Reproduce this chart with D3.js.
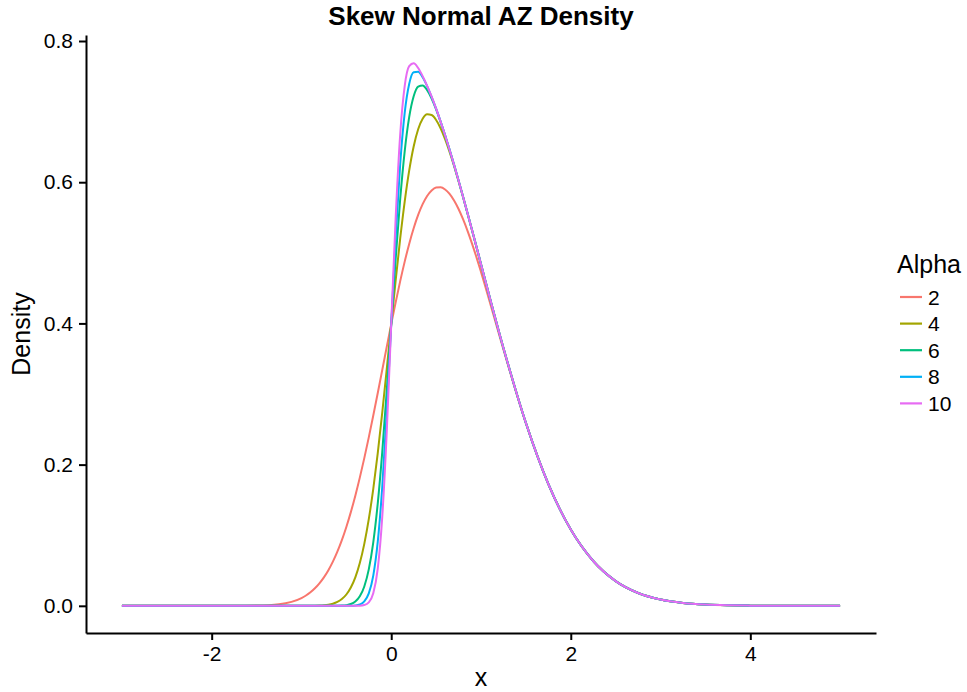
<!DOCTYPE html>
<html>
<head>
<meta charset="utf-8">
<script src="https://cdn.jsdelivr.net/npm/d3@7"></script>
<style>
  body { margin: 0; background: #fff; }
  text { font-family: "Liberation Sans", Arial, Helvetica, sans-serif; fill: #000; }
</style>
</head>
<body>
<div id="wrapper"></div>
<script>

// x grid the densities were read on
const xValues = [-3, -2.75, -2.5, -2.25, -2, -1.75, -1.5, -1.25, -1,
  -0.95, -0.9, -0.85, -0.8, -0.75, -0.7, -0.65, -0.6, -0.55, -0.5,
  -0.45, -0.4, -0.35, -0.3, -0.25, -0.2, -0.15, -0.1, -0.05, 0,
  0.05, 0.1, 0.15, 0.2, 0.25, 0.3, 0.35, 0.4, 0.45, 0.5,
  0.55, 0.6, 0.65, 0.7, 0.75, 0.8, 0.85, 0.9, 0.95,
  1, 1.25, 1.5, 1.75, 2, 2.25, 2.5, 2.75, 3, 3.25, 3.5, 3.75, 4, 4.25, 4.5, 4.75, 5]

const alpha2 = [0, 0, 0, 0, 0.000003, 0.00004, 0.00035, 0.00227, 0.01101,
  0.01459, 0.01912, 0.02478, 0.03175, 0.04024, 0.05044, 0.06253, 0.07669, 0.09305, 0.11172,
  0.13272, 0.15604, 0.18159, 0.20919, 0.23861, 0.26949, 0.30145, 0.33403, 0.36670, 0.39894,
  0.43018, 0.45987, 0.48751, 0.51259, 0.53473, 0.55359, 0.56889, 0.58050, 0.58834, 0.59242,
  0.59283, 0.58975, 0.58341, 0.57407, 0.56204, 0.54763, 0.53118, 0.51306, 0.49353,
  0.47293, 0.36303, 0.25869, 0.17252, 0.10798, 0.06348, 0.03506, 0.01818, 0.00886, 0.00406,
  0.00175, 0.00070, 0.00027, 0.00009, 0.00003, 0.00001, 0]

const alpha4 = [0, 0, 0, 0, 0, 0, 0, 0, 0.00002,
  0.00004, 0.00009, 0.00019, 0.0004, 0.00081, 0.0016, 0.00301, 0.00546, 0.00954, 0.01602,
  0.02591, 0.04036, 0.06061, 0.08777, 0.1227, 0.16569, 0.21637, 0.27356, 0.33528, 0.39894,
  0.4616, 0.52034, 0.57259, 0.61639, 0.65064, 0.67501, 0.68987, 0.69618, 0.69515, 0.68812,
  0.67635, 0.66098, 0.64293, 0.6229, 0.60147, 0.57898, 0.55577, 0.53209, 0.50805,
  0.48391, 0.3653, 0.25904, 0.17255, 0.10798, 0.06348, 0.03506, 0.01819, 0.00886, 0.00406,
  0.00175, 0.00071, 0.00027, 0.00009, 0.00003, 0.00001, 0]

const alpha6 = [0, 0, 0, 0, 0, 0, 0, 0, 0,
  0, 0, 0, 0, 0, 0.00001, 0.00003, 0.00011, 0.00033, 0.00095,
  0.0025, 0.00604, 0.01341, 0.02741, 0.05166, 0.08999, 0.14522, 0.21773, 0.30448, 0.39894,
  0.4924, 0.57617, 0.64375, 0.69209, 0.72167, 0.73537, 0.73708, 0.7305, 0.71856, 0.70319,
  0.68555, 0.66633, 0.64591, 0.6245, 0.60228, 0.57938, 0.55596, 0.53218, 0.50812,
  0.48394, 0.3653, 0.25904, 0.17255, 0.10798, 0.06348, 0.03506, 0.01819, 0.00886, 0.00406,
  0.00175, 0.00071, 0.00027, 0.00009, 0.00003, 0.00001, 0]

const alpha8 = [0, 0, 0, 0, 0, 0, 0, 0, 0,
  0, 0, 0, 0, 0, 0, 0, 0, 0, 0.00002,
  0.00012, 0.00051, 0.00192, 0.00625, 0.01759, 0.04286, 0.09079, 0.1682, 0.27459, 0.39894,
  0.52229, 0.6257, 0.69818, 0.73922, 0.75575, 0.75653, 0.74856, 0.73603, 0.72094, 0.70412,
  0.68588, 0.66644, 0.64594, 0.6245, 0.60228, 0.57938, 0.55596, 0.53218, 0.50812,
  0.48394, 0.3653, 0.25904, 0.17255, 0.10798, 0.06348, 0.03506, 0.01819, 0.00886, 0.00406,
  0.00175, 0.00071, 0.00027, 0.00009, 0.00003, 0.00001, 0]

const alpha10 = [0, 0, 0, 0, 0, 0, 0, 0, 0,
  0, 0, 0, 0, 0, 0, 0, 0, 0, 0,
  0, 0.00002, 0.00018, 0.00103, 0.0048, 0.01779, 0.05271, 0.12596, 0.24587, 0.39894,
  0.55101, 0.66794, 0.73625, 0.76429, 0.76854, 0.76175, 0.75031, 0.73652, 0.72106, 0.70414,
  0.68588, 0.66644, 0.64594, 0.6245, 0.60228, 0.57938, 0.55596, 0.53218, 0.50812,
  0.48394, 0.3653, 0.25904, 0.17255, 0.10798, 0.06348, 0.03506, 0.01819, 0.00886, 0.00406,
  0.00175, 0.00071, 0.00027, 0.00009, 0.00003, 0.00001, 0]

const alphaLabels = ["2", "4", "6", "8", "10"]
const alphaSeries = [alpha2, alpha4, alpha6, alpha8, alpha10]
const alphaColors = ["#F8766D", "#A3A500", "#00BF7D", "#00B0F6", "#E76BF3"]

const xTicks = [-2, 0, 2, 4]
const yTicks = [0, 0.2, 0.4, 0.6, 0.8]


// dimensions and framing
let dimensions = {
  width: 967,
  height: 692,
  margin: {
    top: 35,
    right: 91,
    bottom: 59,
    left: 86,
  },
}
dimensions.boundedWidth = dimensions.width
  - dimensions.margin.left
  - dimensions.margin.right
dimensions.boundedHeight = dimensions.height
  - dimensions.margin.top
  - dimensions.margin.bottom

const wrapper = d3.select("#wrapper")
  .append("svg")
    .attr("width", dimensions.width)
    .attr("height", dimensions.height)

const bounds = wrapper.append("g")
    .attr("transform", `translate(${dimensions.margin.left},${dimensions.margin.top})`)


// scales (ggplot style 5% expansion)
const xScale = d3.scaleLinear()
  .domain([-3.4, 5.4])
  .range([0, dimensions.boundedWidth])

const yScale = d3.scaleLinear()
  .domain([-0.0385, 0.8085])
  .range([dimensions.boundedHeight, 0])


// density curves
const lineGenerator = d3.line()
  .x(d => xScale(d[0]))
  .y(d => yScale(d[1]))
  .curve(d3.curveMonotoneX)

alphaSeries.forEach((series, i) => {
  const points = xValues.map((x, j) => [x, series[j]])
  bounds.append("path")
      .datum(points)
      .attr("d", lineGenerator)
      .attr("fill", "none")
      .attr("stroke", alphaColors[i])
      .attr("stroke-width", 2)
})


// axes
const xAxis = bounds.append("g")
    .attr("transform", `translate(0,${dimensions.boundedHeight})`)
    .call(d3.axisBottom(xScale)
      .tickValues(xTicks)
      .tickSizeOuter(0)
      .tickSizeInner(7)
      .tickPadding(6)
      .tickFormat(d3.format("d")))

const yAxis = bounds.append("g")
    .call(d3.axisLeft(yScale)
      .tickValues(yTicks)
      .tickSizeOuter(0)
      .tickSizeInner(7)
      .tickPadding(6)
      .tickFormat(d3.format(".1f")))

bounds.selectAll(".domain, .tick line")
    .attr("stroke", "#000")
    .attr("stroke-width", 2)
bounds.selectAll(".tick text")
    .attr("fill", "#000")
    .style("font-size", "21px")
xAxis.selectAll(".tick text").text(d => d < 0 ? "-" + Math.abs(d) : d)


// labels
wrapper.append("text")
    .attr("x", dimensions.margin.left + dimensions.boundedWidth / 2)
    .attr("y", 25)
    .attr("text-anchor", "middle")
    .style("font-size", "26px")
    .style("font-weight", "bold")
    .text("Skew Normal AZ Density")

wrapper.append("text")
    .attr("x", dimensions.margin.left + dimensions.boundedWidth / 2)
    .attr("y", 686)
    .attr("text-anchor", "middle")
    .style("font-size", "25px")
    .text("x")

wrapper.append("text")
    .attr("transform", `translate(30,${dimensions.margin.top + dimensions.boundedHeight / 2}) rotate(-90)`)
    .attr("text-anchor", "middle")
    .style("font-size", "25px")
    .text("Density")


// legend
const legend = wrapper.append("g")
    .attr("transform", "translate(897,0)")

legend.append("text")
    .attr("x", 0)
    .attr("y", 273)
    .style("font-size", "25px")
    .text("Alpha")

const legendItems = legend.selectAll(".legend-item")
    .data(alphaLabels)
  .join("g")
    .attr("class", "legend-item")
    .attr("transform", (d, i) => `translate(0,${297 + i * 26.6})`)

legendItems.append("line")
    .attr("x1", 3)
    .attr("x2", 25)
    .attr("stroke", (d, i) => alphaColors[i])
    .attr("stroke-width", 2.2)

legendItems.append("text")
    .attr("x", 31)
    .attr("y", 7.5)
    .style("font-size", "21px")
    .text(d => d)

</script>
</body>
</html>
